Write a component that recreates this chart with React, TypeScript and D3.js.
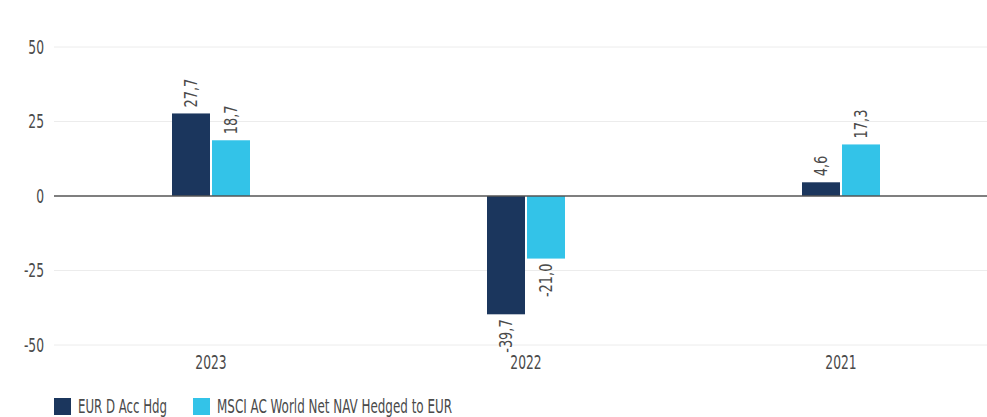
import React, { useEffect, useRef } from "react";
import * as d3 from "d3";

const years = ["2023", "2022", "2021"];
const seriesNames = ["EUR D Acc Hdg", "MSCI AC World Net NAV Hedged to EUR"];
const fundValues = [27.7, -39.7, 4.6];
const indexValues = [18.7, -21.0, 17.3];
const yTicks = [-50, -25, 0, 25, 50];
const colors = ["#1b365d", "#33c3e8"];

const FONT = "'DejaVu Sans Condensed', 'DejaVu Sans', sans-serif";
const TEXT = "#4a4a4a";
const SQUEEZE = 0.72;

function App() {
  const svgRef = useRef<SVGSVGElement>(null);

  useEffect(() => {
    const WIDTH = 987;
    const HEIGHT = 417;
    const svg = d3.select(svgRef.current).attr("width", WIDTH).attr("height", HEIGHT);
    svg.selectAll("*").remove();

    const x = d3.scaleBand().domain(years).range([53.5, 998.5]);
    const y = d3.scaleLinear().domain([-50, 50]).range([345, 47]);
    const BAR = 38;
    const GAP = 2;

    const g = svg.append("g").style("font-family", FONT).style("font-stretch", "condensed");

    // gridlines
    g.selectAll(".grid")
      .data(yTicks.filter((t) => t !== 0))
      .join("line")
      .attr("x1", 54)
      .attr("x2", WIDTH)
      .attr("y1", (d) => y(d))
      .attr("y2", (d) => y(d))
      .attr("stroke", "#ececec")
      .attr("stroke-width", 1);

    g.selectAll(".ytick")
      .data(yTicks)
      .join("text")
      .attr("transform", (d) => `translate(44,${y(d)}) scale(${SQUEEZE},1)`)
      .attr("dy", "0.36em")
      .attr("text-anchor", "end")
      .attr("fill", TEXT)
      .attr("font-size", 19)
      .text((d) => d);

    const rows = years.map((yr, i) => [fundValues[i], indexValues[i]]);

    rows.forEach((vals, i) => {
      const cx = x(years[i])! + x.bandwidth() / 2;
      vals.forEach((v, s) => {
        const bx = s === 0 ? cx - GAP / 2 - BAR : cx + GAP / 2;
        g.append("rect")
          .attr("x", bx)
          .attr("width", BAR)
          .attr("y", Math.min(y(v), y(0)))
          .attr("height", Math.abs(y(v) - y(0)))
          .attr("fill", colors[s]);
        const ly = v >= 0 ? y(v) - 6 : y(v) + 5;
        g.append("text")
          .attr("transform", `translate(${bx + BAR / 2},${ly}) rotate(-90) scale(0.8,1)`)
          .attr("text-anchor", v >= 0 ? "start" : "end")
          .attr("dy", "0.36em")
          .attr("fill", TEXT)
          .attr("font-size", 18)
          .text(v.toFixed(1).replace(".", ","));
      });
    });

    // zero line
    g.append("line")
      .attr("x1", 54)
      .attr("x2", WIDTH)
      .attr("y1", y(0))
      .attr("y2", y(0))
      .attr("stroke", "#555")
      .attr("stroke-width", 1.5);

    // x labels
    g.selectAll(".xlab")
      .data(years)
      .join("text")
      .attr("transform", (d) => `translate(${x(d)! + x.bandwidth() / 2},369) scale(${SQUEEZE},1)`)
      .attr("text-anchor", "middle")
      .attr("fill", TEXT)
      .attr("font-size", 19)
      .text((d) => d);

    // legend
    const legendX = [54, 193];
    const legendLen = [89, 235];
    seriesNames.forEach((name, i) => {
      g.append("rect")
        .attr("x", legendX[i])
        .attr("y", 398)
        .attr("width", 17)
        .attr("height", 17)
        .attr("fill", colors[i]);
      g.append("text")
        .attr("x", legendX[i] + 24)
        .attr("y", 413)
        .attr("fill", TEXT)
        .attr("font-size", 19)
        .attr("textLength", legendLen[i])
        .attr("lengthAdjust", "spacingAndGlyphs")
        .text(name);
    });
  }, []);

  return (
    <div style={{ position: "absolute", left: 0, top: 0 }}>
      <svg ref={svgRef} style={{ display: "block" }}></svg>
    </div>
  );
}

export default App;
